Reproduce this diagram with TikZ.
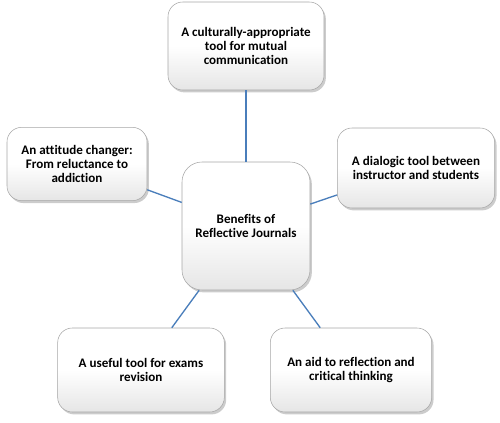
\documentclass[tikz,border=0pt]{standalone}
\usepackage{fontspec}
\setmainfont{Carlito}[Ligatures=NoCommon]
\usetikzlibrary{shadows}
\definecolor{linkblue}{HTML}{4A7EBB}
\definecolor{boxgray}{HTML}{A6A6A6}

\begin{document}
\begin{tikzpicture}[x=0.75pt, y=-0.75pt,
    benefit/.style={draw=boxgray, line width=0.4pt, rounded corners=11pt,
        top color=white, bottom color=black!10, middle color=white,
        drop shadow={shadow xshift=1.4pt, shadow yshift=-1.8pt, opacity=0.4},
        align=center, font=\fontsize{9.8}{10.8}\selectfont\bfseries,
        inner sep=2pt},
    link/.style={draw=linkblue, line width=1pt}]
    \useasboundingbox (0,0) rectangle (500,422);

    % centre
    \node[benefit, rounded corners=15pt, minimum width=96pt, minimum height=96pt]
        (hub) at (246,226) {Benefits of\\Reflective Journals};

    % benefits round the centre
    \node[benefit, minimum width=117pt, minimum height=66pt] (top) at (246,46)
        {A culturally-appropriate\\tool for mutual\\communication};
    \node[benefit, minimum width=105pt, minimum height=55pt] (left) at (77,164)
        {An attitude changer:\\From reluctance to\\addiction};
    \node[benefit, minimum width=118pt, minimum height=60pt] (right) at (416,168)
        {A dialogic tool between\\instructor and students};
    \node[benefit, minimum width=125pt, minimum height=63pt] (botleft) at (141,370)
        {A useful tool for exams\\revision};
    \node[benefit, minimum width=121pt, minimum height=63pt] (botright) at (351,370)
        {An aid to reflection and\\critical thinking};

    % connectors
    \foreach \b in {top,left,right,botleft,botright}
        \draw[link] (hub) -- (\b);
\end{tikzpicture}
\end{document}
